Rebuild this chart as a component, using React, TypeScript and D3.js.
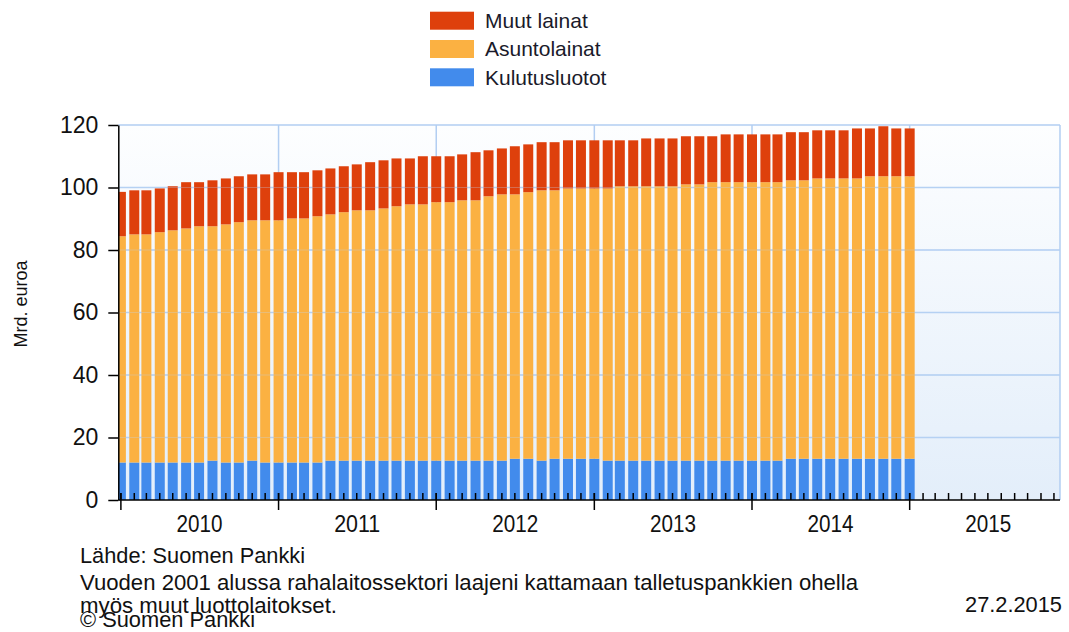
import { useEffect, useRef } from "react";
import * as d3 from "d3";

// Kuukausittaiset kannat (mrd. euroa), joulukuu 2009 – joulukuu 2014
const kulutusluotot = [
  12.0, 12.0, 12.0, 12.0, 12.0, 12.0, 12.0, 12.6, 12.0, 12.0,
  12.6, 12.0, 12.0, 12.0, 12.0, 12.0, 12.6, 12.6, 12.6, 12.6,
  12.6, 12.6, 12.6, 12.6, 12.6, 12.6, 12.6, 12.6, 12.6, 12.6,
  13.2, 13.2, 12.6, 13.2, 13.2, 13.2, 13.2, 12.6, 12.6, 12.6,
  12.6, 12.6, 12.6, 12.6, 12.6, 12.6, 12.6, 12.6, 12.6, 12.6,
  12.6, 13.2, 13.2, 13.2, 13.2, 13.2, 13.2, 13.2, 13.2, 13.2,
  13.2,
];
const asuntolainat = [
  72.4, 73.0, 73.0, 73.7, 74.3, 74.9, 75.6, 75.0, 76.2, 76.9,
  76.9, 77.5, 77.5, 78.1, 78.1, 78.8, 78.8, 79.5, 80.1, 80.1,
  80.7, 81.4, 82.0, 82.0, 82.7, 82.7, 83.3, 83.3, 84.6, 85.2,
  84.6, 85.3, 86.5, 85.9, 86.5, 86.5, 86.5, 87.1, 87.8, 87.8,
  87.8, 87.8, 87.8, 88.4, 88.4, 89.1, 89.1, 89.1, 89.1, 89.1,
  89.1, 89.1, 89.1, 89.7, 89.7, 89.7, 89.7, 90.4, 90.4, 90.4,
  90.4,
];
const muutLainat = [
  14.2, 14.1, 14.1, 14.0, 14.1, 14.8, 14.1, 14.7, 14.7, 14.7,
  14.7, 14.7, 15.4, 14.8, 14.8, 14.7, 14.7, 14.7, 14.7, 15.4,
  15.4, 15.3, 14.7, 15.4, 14.7, 14.7, 14.7, 15.4, 14.7, 14.7,
  15.4, 15.3, 15.4, 15.4, 15.4, 15.4, 15.4, 15.4, 14.7, 14.7,
  15.3, 15.3, 15.3, 15.4, 15.4, 14.7, 15.3, 15.3, 15.3, 15.3,
  15.3, 15.4, 15.4, 15.4, 15.4, 15.4, 16.0, 15.3, 16.0, 15.3,
  15.3,
];
const years = [2010, 2011, 2012, 2013, 2014, 2015];
const yTicks = [0, 20, 40, 60, 80, 100, 120];

const seriesKeys = ["kulutus", "asunto", "muut"];
const legendItems = [
  { key: "muut", label: "Muut lainat" },
  { key: "asunto", label: "Asuntolainat" },
  { key: "kulutus", label: "Kulutusluotot" },
];
const colors = { kulutus: "#428bec", asunto: "#fbb142", muut: "#de400c" };

const notes = [
  { text: "Lähde: Suomen Pankki", x: 80, y: 563, w: 225 },
  { text: "Vuoden 2001 alussa rahalaitossektori laajeni kattamaan talletuspankkien ohella", x: 80, y: 590, w: 778 },
  { text: "myös muut luottolaitokset.", x: 80, y: 613, w: 257 },
  { text: "© Suomen Pankki", x: 80, y: 627, w: 175 },
  { text: "27.2.2015", x: 965, y: 612, w: 97 },
];

const FONT = "'Liberation Sans', Arial, sans-serif";

const App = () => {
  const svgRef = useRef<SVGSVGElement | null>(null);

  useEffect(() => {
    const svg = d3.select(svgRef.current);
    svg.selectAll("*").remove();

    const W = 1069;
    const H = 632;
    const left = 118.3;
    const right = 1060;
    const top = 125;
    const bottom = 500;

    svg.attr("width", W).attr("height", H).style("font-family", FONT);

    // months: Dec 2009 .. Dec 2014, bar drawn at month end (= next month start)
    const months = d3.utcMonth.range(new Date(Date.UTC(2009, 11, 1)), new Date(Date.UTC(2015, 0, 1)));
    const rows = months.map((m, i) => ({
      date: d3.utcMonth.offset(m, 1),
      kulutus: kulutusluotot[i],
      asunto: asuntolainat[i],
      muut: muutLainat[i],
    }));

    const x = d3
      .scaleUtc()
      .domain([new Date(Date.UTC(2009, 11, 26)), new Date(Date.UTC(2015, 11, 15))])
      .range([left, right]);
    const y = d3.scaleLinear().domain([0, 120]).range([bottom, top]);

    const defs = svg.append("defs");
    const grad = defs
      .append("linearGradient")
      .attr("id", "plot-bg")
      .attr("x1", "0%")
      .attr("x2", "0%")
      .attr("y1", "0%")
      .attr("y2", "100%");
    grad.append("stop").attr("offset", "0%").attr("stop-color", "#fdfeff");
    grad.append("stop").attr("offset", "100%").attr("stop-color", "#e3eefa");
    defs
      .append("clipPath")
      .attr("id", "plot-clip")
      .append("rect")
      .attr("x", left)
      .attr("y", top - 2)
      .attr("width", right - left)
      .attr("height", bottom - top + 2);

    svg.append("rect").attr("width", W).attr("height", H).attr("fill", "#fff");
    svg
      .append("rect")
      .attr("x", left)
      .attr("y", top)
      .attr("width", right - left)
      .attr("height", bottom - top)
      .attr("fill", "url(#plot-bg)");

    // grid
    const gridColor = "#b2cef2";
    const grid = svg.append("g");
    grid
      .selectAll("line.h")
      .data(yTicks.filter((d) => d > 0))
      .join("line")
      .attr("x1", left)
      .attr("x2", right)
      .attr("y1", (d) => y(d))
      .attr("y2", (d) => y(d))
      .attr("stroke", gridColor)
      .attr("stroke-width", 1.5);
    grid
      .selectAll("line.v")
      .data(years.slice(1))
      .join("line")
      .attr("x1", (d) => x(new Date(Date.UTC(d, 0, 1))))
      .attr("x2", (d) => x(new Date(Date.UTC(d, 0, 1))))
      .attr("y1", top)
      .attr("y2", bottom)
      .attr("stroke", gridColor)
      .attr("stroke-width", 1.5);
    grid
      .append("line")
      .attr("x1", right)
      .attr("x2", right)
      .attr("y1", top)
      .attr("y2", bottom)
      .attr("stroke", gridColor)
      .attr("stroke-width", 1.5);

    // bars
    const stacked = d3.stack().keys(seriesKeys)(rows as any);
    const barW = 10;
    svg
      .append("g")
      .attr("clip-path", "url(#plot-clip)")
      .selectAll("g")
      .data(stacked)
      .join("g")
      .attr("fill", (s: any) => colors[s.key as keyof typeof colors])
      .selectAll("rect")
      .data((s: any) => s)
      .join("rect")
      .attr("x", (d: any) => x(d.data.date) - barW / 2)
      .attr("width", barW)
      .attr("y", (d: any) => y(d[1]))
      .attr("height", (d: any) => y(d[0]) - y(d[1]));

    // faint grid over bars
    svg
      .append("g")
      .selectAll("line")
      .data(yTicks.filter((d) => d > 0 && d < 120))
      .join("line")
      .attr("x1", left)
      .attr("x2", right)
      .attr("y1", (d) => y(d))
      .attr("y2", (d) => y(d))
      .attr("stroke", "rgba(190,215,245,0.3)")
      .attr("stroke-width", 1);

    // y axis
    const yAxis = svg
      .append("g")
      .attr("transform", `translate(${left},0)`)
      .call(d3.axisLeft(y).tickValues(yTicks).tickSize(10).tickSizeOuter(0).tickPadding(10));
    yAxis.select(".domain").attr("stroke", "#000").attr("stroke-width", 1.5);
    yAxis.selectAll(".tick line").attr("stroke", "#000").attr("stroke-width", 1.5);
    yAxis
      .selectAll(".tick text")
      .style("font-size", "23px")
      .style("font-family", FONT)
      .attr("fill", "#111");

    // x axis: monthly minor ticks inside, yearly major ticks across
    const monthTicks = d3.utcMonth.range(new Date(Date.UTC(2010, 0, 1)), new Date(Date.UTC(2015, 11, 2)));
    const xAxis = svg.append("g");
    xAxis
      .append("line")
      .attr("x1", left)
      .attr("x2", right)
      .attr("y1", bottom)
      .attr("y2", bottom)
      .attr("stroke", "#000")
      .attr("stroke-width", 1.5);
    xAxis
      .selectAll("line.minor")
      .data(monthTicks)
      .join("line")
      .attr("x1", (d) => x(d))
      .attr("x2", (d) => x(d))
      .attr("y1", bottom - 7)
      .attr("y2", bottom)
      .attr("stroke", "#000")
      .attr("stroke-width", 1.5);
    xAxis
      .selectAll("line.major")
      .data(years)
      .join("line")
      .attr("x1", (d) => x(new Date(Date.UTC(d, 0, 1))))
      .attr("x2", (d) => x(new Date(Date.UTC(d, 0, 1))))
      .attr("y1", bottom - 7)
      .attr("y2", bottom + 10)
      .attr("stroke", "#000")
      .attr("stroke-width", 1.5);
    xAxis
      .selectAll("text")
      .data(years)
      .join("text")
      .attr("x", (d) => x(new Date(Date.UTC(d, 6, 2))))
      .attr("y", 532)
      .attr("text-anchor", "middle")
      .attr("textLength", 46)
      .attr("lengthAdjust", "spacingAndGlyphs")
      .style("font-size", "24px")
      .attr("fill", "#111")
      .text((d) => String(d));

    // y title
    svg
      .append("text")
      .attr("transform", "translate(27,304) rotate(-90)")
      .attr("text-anchor", "middle")
      .style("font-size", "18px")
      .attr("fill", "#111")
      .text("Mrd. euroa");

    // legend
    const legend = svg
      .append("g")
      .selectAll("g")
      .data(legendItems)
      .join("g")
      .attr("transform", (_d, i) => `translate(430,${20.7 + i * 28.3})`);
    legend
      .append("rect")
      .attr("x", 0)
      .attr("y", -9)
      .attr("width", 44)
      .attr("height", 18)
      .attr("fill", (d) => colors[d.key as keyof typeof colors]);
    legend
      .append("text")
      .attr("x", 55)
      .attr("y", 0)
      .attr("dy", "0.35em")
      .style("font-size", "21px")
      .attr("fill", "#1a1a2a")
      .text((d) => d.label);

    // notes
    svg
      .append("g")
      .selectAll("text")
      .data(notes)
      .join("text")
      .attr("x", (d) => d.x)
      .attr("y", (d) => d.y)
      .attr("textLength", (d) => d.w)
      .attr("lengthAdjust", "spacingAndGlyphs")
      .style("font-size", "22px")
      .attr("fill", "#111")
      .text((d) => d.text);
  }, []);

  return <svg ref={svgRef} style={{ position: "absolute", left: 0, top: 0 }} />;
};

export default App;
